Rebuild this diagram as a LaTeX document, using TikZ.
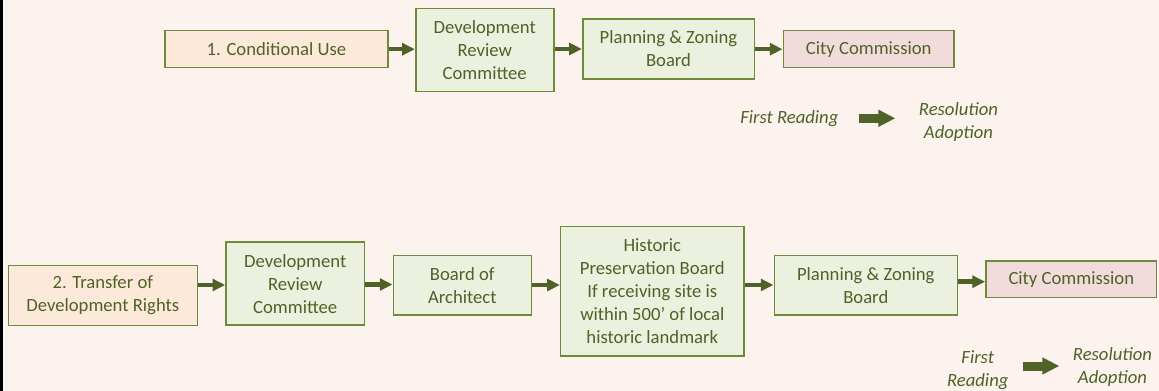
\documentclass[tikz,border=0pt]{standalone}
\usepackage{fontspec}
\setmainfont{Carlito}
\usetikzlibrary{arrows.meta}
\definecolor{bgc}{HTML}{FDF3EE}
\definecolor{txtc}{HTML}{4F6228}
\definecolor{edgec}{HTML}{6E8B3A}
\definecolor{peach}{HTML}{FDE9D9}
\definecolor{greenf}{HTML}{EBF1DE}
\definecolor{pinkf}{HTML}{F2DCDB}
\tikzset{
  box/.style={draw=edgec, line width=1.2pt, text=txtc, align=center, inner sep=0pt,
    font=\fontsize{14}{17.25}\selectfont},
  startbox/.style={box, fill=peach},
  stagebox/.style={box, fill=greenf},
  endbox/.style={box, fill=pinkf},
  flow/.style={draw=txtc, line width=3.3pt, -{Triangle[length=9.5pt,width=8.8pt]}},
  legtext/.style={text=txtc, align=center, inner sep=0pt,
    font=\fontsize{14}{17.25}\selectfont\itshape},
  legarrow/.style={draw=txtc, line width=6.75pt, -{Triangle[length=12.75pt,width=12pt]}},
}
\begin{document}
\begin{tikzpicture}[x=0.75pt,y=-0.75pt]
\useasboundingbox (0,0) rectangle (1159,391);
\fill[bgc] (0,0) rectangle (1159,391);
\fill[black] (0,0) rectangle (3,391);

% Row 1
\node[startbox, minimum width=223*0.75pt, minimum height=37*0.75pt] (cu) at (276.5,49.2) {1. Conditional Use};
\node[stagebox, minimum width=138*0.75pt, minimum height=83*0.75pt] (drcA) at (484.7,50.2) {Development\\Review\\Committee};
\node[stagebox, minimum width=171.6*0.75pt, minimum height=60*0.75pt] (pzA) at (668.5,49) {Planning \& Zoning\\Board};
\node[endbox, minimum width=170.7*0.75pt, minimum height=37*0.75pt] (ccA) at (868.7,49.2) {City Commission};

\draw[flow] (cu.east) -- (cu.east -| drcA.west);
\draw[flow] (drcA.east |- pzA.west) -- (pzA.west);
\draw[flow] (pzA.east |- ccA.west) -- (ccA.west);

\node[legtext, anchor=east] (frA) at (838.7,119) {First Reading};
\node[legtext, anchor=west] (raA) at (918.7,121.7) {Resolution\\Adoption};
\draw[legarrow, shorten <=15pt, shorten >=17.5pt] (frA.east |- 0,118.3) -- (raA.west |- 0,118.3);

% Row 2
\node[startbox, minimum width=189*0.75pt, minimum height=60*0.75pt] (tdr) at (102.8,295.7) {2. Transfer of\\Development Rights};
\node[stagebox, minimum width=138.3*0.75pt, minimum height=83*0.75pt] (drcB) at (295.2,283.8) {Development\\Review\\Committee};
\node[stagebox, minimum width=138*0.75pt, minimum height=59.3*0.75pt] (boa) at (462.3,285.3) {Board of\\Architect};
\node[stagebox, minimum width=183.3*0.75pt, minimum height=129*0.75pt] (hpb) at (652.3,291.2) {Historic\\Preservation Board\\If receiving site is\\within 500’ of local\\historic landmark};
\node[stagebox, minimum width=183*0.75pt, minimum height=59.7*0.75pt] (pzB) at (865.8,285.2) {Planning \& Zoning\\Board};
\node[endbox, minimum width=170.7*0.75pt, minimum height=36.7*0.75pt] (ccB) at (1071.3,279.3) {City Commission};

\draw[flow] (tdr.east |- 0,285) -- (drcB.west |- 0,285);
\draw[flow] (drcB.east |- 0,284.5) -- (boa.west |- 0,284.5);
\draw[flow] (boa.east |- 0,285) -- (hpb.west |- 0,285);
\draw[flow] (hpb.east |- 0,285) -- (pzB.west |- 0,285);
\draw[flow] (pzB.east |- 0,281.7) -- (ccB.west |- 0,281.7);

\node[legtext, anchor=east] (frB) at (1008.7,369.7) {First\\Reading};
\node[legtext, anchor=west] (raB) at (1072.7,366.8) {Resolution\\Adoption};
\draw[legarrow, shorten <=10.7pt, shorten >=10pt] (frB.east |- 0,366) -- (raB.west |- 0,366);
\end{tikzpicture}
\end{document}
